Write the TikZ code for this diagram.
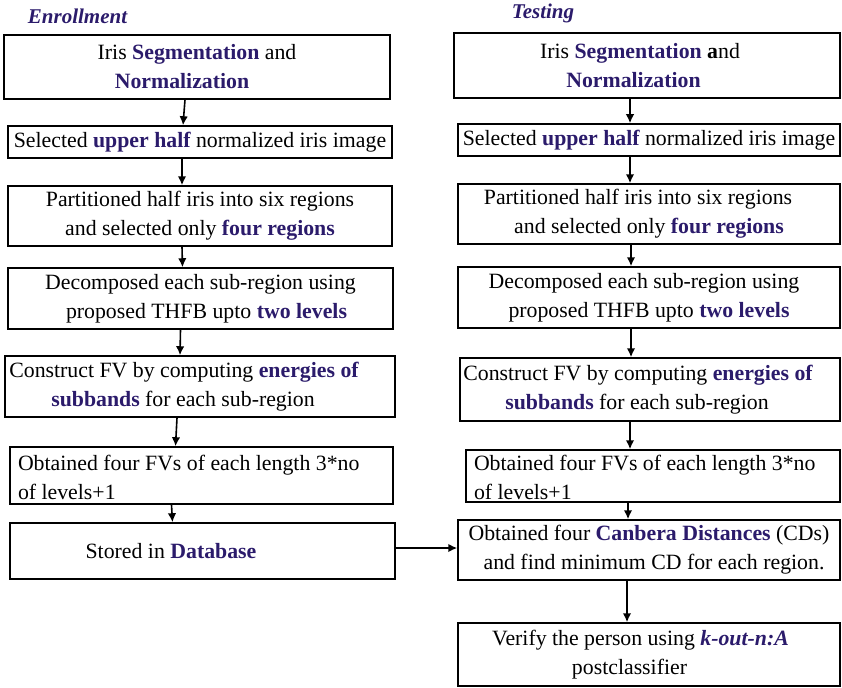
\documentclass[tikz,border=0pt]{standalone}
\usepackage{fontspec}
\setmainfont{Liberation Serif}
\usepackage{tikz}
\usetikzlibrary{positioning, arrows.meta}
\definecolor{kwpurple}{RGB}{43,27,107}
\newcommand{\kw}[1]{\textbf{\color{kwpurple}#1}}

\begin{document}
\begin{tikzpicture}[x=1pt, y=-1pt,
        box/.style={draw, line width=1.5pt, inner sep=0pt, align=center, font=\fontsize{21.8}{29}\selectfont},
        leftbox/.style={box, align=flush left, inner xsep=8pt},
        arr/.style={-{Latex[length=9pt, width=8.5pt]}, line width=1.6pt},
        head/.style={font=\fontsize{21}{24}\selectfont\bfseries\itshape, text=kwpurple}]
    \useasboundingbox (0,0) rectangle (842,687);

    % enrollment column
    \node [head] (enr) at (77.5,16) {Enrollment};
    \node [box, minimum width=386pt, minimum height=64pt] (L1) at (197,67)
        {Iris \kw{Segmentation} and\\ \kw{Normalization}\hspace*{30pt}};
    \node [box, minimum width=384pt, minimum height=32pt] (L2) at (200,142)
        {Selected \kw{upper half} normalized iris image};
    \node [box, minimum width=384pt, minimum height=60pt] (L3) at (200,216)
        {Partitioned half iris into six regions\\ and selected only \kw{four regions}};
    \node [box, minimum width=385pt, minimum height=61pt] (L4) at (200.5,298.5)
        {Decomposed each sub-region using\\ \hspace*{12pt}proposed THFB upto \kw{two levels}};
    \node [box, minimum width=390pt, minimum height=61pt] (L5) at (200,386.5)
        {Construct FV by computing \kw{energies of}\hspace*{32pt}\\ \kw{subbands} for each sub-region\hspace*{34pt}};
    \node [leftbox, text width=367pt, minimum height=57pt, text height=19pt] (L6) at (201.5,475.5)
        {Obtained four FVs of each length 3*no\\ of levels+1};
    \node [box, minimum width=385pt, minimum height=56pt] (L7) at (202.5,551)
        {Stored in \kw{Database}\hspace*{63pt}};

    % testing column
    \node [head] (tst) at (543,13) {Testing};
    \node [box, minimum width=386pt, minimum height=65pt] (R1) at (647,65.5)
        {Iris \kw{Segmentation} \textbf{a}nd\hspace*{14pt}\\ \kw{Normalization}\hspace*{27pt}};
    \node [box, minimum width=382pt, minimum height=32pt] (R2) at (649,140)
        {Selected \kw{upper half} normalized iris image};
    \node [box, minimum width=382pt, minimum height=60pt] (R3) at (649,214)
        {Partitioned half iris into six regions\hspace*{22pt}\\ and selected only \kw{four regions}};
    \node [box, minimum width=382pt, minimum height=61pt] (R4) at (649,297.5)
        {Decomposed each sub-region using\hspace*{10pt}\\ proposed THFB upto \kw{two levels}};
    \node [box, minimum width=380pt, minimum height=63pt] (R5) at (650,389.5)
        {Construct FV by computing \kw{energies of}\hspace*{24pt}\\ \kw{subbands} for each sub-region\hspace*{26pt}};
    \node [leftbox, text width=358pt, minimum height=52pt, text height=19pt] (R6) at (653,476)
        {Obtained four FVs of each length 3*no\\ of levels+1};
    \node [box, minimum width=382pt, minimum height=60pt] (R7) at (649,550)
        {Obtained four \kw{Canbera Distances} (CDs)\\ \hspace*{10pt}and find minimum CD for each region.};
    \node [box, minimum width=382pt, minimum height=63pt] (R8) at (649,654.5)
        {Verify the person using \kw{\textit{k-out-n:A}}\hspace*{17pt}\\ postclassifier\hspace*{39pt}};

    % connectors
    \draw [arr] ([xshift=-12pt]L1.south) -- ([xshift=-17pt]L2.north);
    \draw [arr] ([xshift=-18pt]L2.south) -- ([xshift=-18pt]L3.north);
    \draw [arr] ([xshift=-18pt]L3.south) -- ([xshift=-18pt]L4.north);
    \draw [arr] ([xshift=-20pt]L4.south) -- ([xshift=-20pt]L5.north);
    \draw [arr] ([xshift=-23pt]L5.south) -- ([xshift=-26pt]L6.north);
    \draw [arr] ([xshift=-30pt]L6.south) -- ([xshift=-30pt]L7.north);
    \draw [arr] ([yshift=3pt]L7.east) -- ([yshift=2pt]R7.west);
    \draw [arr] ([xshift=-17pt]R1.south) -- ([xshift=-19pt]R2.north);
    \draw [arr] ([xshift=-19pt]R2.south) -- ([xshift=-19pt]R3.north);
    \draw [arr] ([xshift=-18pt]R3.south) -- ([xshift=-18pt]R4.north);
    \draw [arr] ([xshift=-18pt]R4.south) -- ([xshift=-19pt]R5.north);
    \draw [arr] ([xshift=-20pt]R5.south) -- ([xshift=-23pt]R6.north);
    \draw [arr] ([xshift=-25pt]R6.south) -- ([xshift=-21pt]R7.north);
    \draw [arr] ([xshift=-22pt]R7.south) -- ([xshift=-22pt]R8.north);
\end{tikzpicture}
\end{document}
